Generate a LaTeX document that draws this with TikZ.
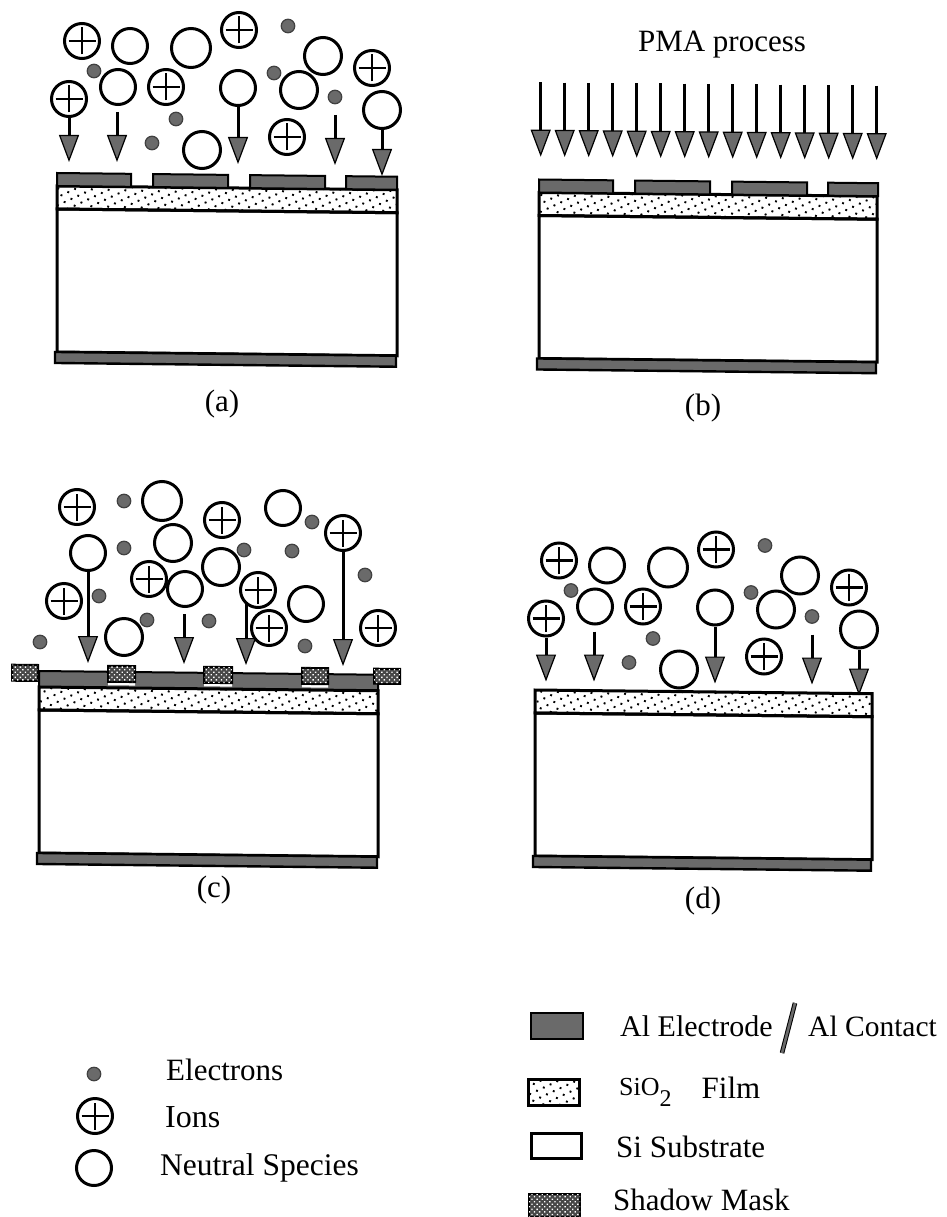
\documentclass[tikz,border=0pt]{standalone}
\usepackage{fontspec}
\setmainfont{Liberation Serif}
\usepackage{xcolor}
\usetikzlibrary{arrows.meta,patterns.meta}
\definecolor{algray}{HTML}{6A6A6A}
\tikzset{
  lbl/.style={font=\fontsize{31}{34}\selectfont,inner sep=0pt,anchor=base west},
  panellbl/.style={font=\fontsize{31}{34}\selectfont,inner sep=0pt,anchor=base},
  neutral/.style={circle,draw=black,fill=white,line width=3pt,inner sep=0pt,minimum size=35pt},
  ion/.style={neutral,path picture={
    \draw[line width=2.8pt] ([xshift=-13.5pt]path picture bounding box.center) -- ([xshift=13.5pt]path picture bounding box.center);
    \draw[line width=2.8pt] ([yshift=-13.5pt]path picture bounding box.center) -- ([yshift=13.5pt]path picture bounding box.center);}},
  electron/.style={circle,draw=black!75,fill=algray,line width=1.2pt,inner sep=0pt,minimum size=13.5pt},
  flux/.style={line width=3pt,-{Triangle[length=27pt,width=20pt,fill=algray,line width=1.2pt]}},
  alfilm/.style={draw=black,fill=algray,line width=2pt},
  siofilm/.style={draw=black,line width=3pt,pattern={Dots[distance=7.5pt,radius=1.35pt,angle=25]}},
  substrate/.style={draw=black,fill=white,line width=3pt},
  shadowmask/.style={draw=black,line width=2pt,fill=black!72,postaction={pattern={Dots[distance=3.6pt,radius=0.95pt,angle=45]},pattern color=white}}
}
% SiO2 film, substrate and back electrode, #1 is the width
\newcommand{\waferstack}[1]{%
  \draw[substrate] (0,36) rectangle (#1,179);
  \draw[siofilm] (0,13) rectangle (#1,36);
  \draw[alfilm,line width=2.4pt] (-2,179) rectangle (#1-1,190);
}
\newcommand{\topstrips}[1]{%
  \draw[alfilm] (0,0) rectangle (74,13);
  \draw[alfilm] (96,0) rectangle (171,13);
  \draw[alfilm] (193,0) rectangle (268,13);
  \draw[alfilm] (289,0) rectangle (#1,13);
}
% the same cloud of particles is used in (a) and (d)
\newcommand{\plasmacloud}{%
  \node[ion] (i1) at (82,41) {};
  \node[ion] (i2) at (239,30) {};
  \node[ion] (i3) at (372,68) {};
  \node[ion] (i4) at (69,99) {};
  \node[ion] (i5) at (166,87) {};
  \node[ion] (i6) at (287,137) {};
  \node[neutral] (n1) at (130,46) {};
  \node[neutral,minimum size=39pt] (n2) at (191,48) {};
  \node[neutral,minimum size=37pt] (n3) at (323,56) {};
  \node[neutral] (n4) at (118,87) {};
  \node[neutral] (n5) at (238,88) {};
  \node[neutral,minimum size=37pt] (n6) at (299,90) {};
  \node[neutral,minimum size=37pt] (n7) at (382,110) {};
  \node[neutral,minimum size=37pt] (n8) at (202,150) {};
  \foreach \nm/\x/\y in {1/288/26,2/94/71,3/274/73,4/335/97,5/176/119,6/152/143}
    \node[electron] (e\nm) at (\x,\y) {};
  \coordinate (s2) at (117,112);
  \coordinate (s4) at (335,115);
  \coordinate (t1) at (69,162);
  \coordinate (t2) at (117,162);
  \coordinate (t3) at (238,164);
  \coordinate (t4) at (335,165);
  \coordinate (t5) at (382,176);
  \draw[flux] (i4.south) -- (t1);
  \draw[flux] (s2) -- (t2);
  \draw[flux] (n5.south) -- (t3);
  \draw[flux] (s4) -- (t4);
  \draw[flux] (n7.south) -- (t5);
}

\begin{document}
\begin{tikzpicture}[x=1pt,y=-1pt]
\useasboundingbox (0,0) rectangle (946,1217);
\fill[white] (0,0) rectangle (946,1217);

% (a)
\begin{scope}[shift={(57,173)},yslant=-0.011]
  \waferstack{340}
  \topstrips{340}
\end{scope}
\begin{scope}[name prefix=a-]
  \plasmacloud
\end{scope}
\node[panellbl] (capa) at (222,411) {(a)};

% (b)
\begin{scope}[shift={(539,179.5)},yslant=-0.011]
  \waferstack{338}
  \topstrips{339}
\end{scope}
\node[panellbl] (pma) at (722,52) {PMA process};
\foreach \i in {0,...,14} {
  \coordinate (pmas\i) at (540.7+24*\i,82.3+0.24*\i);
  \coordinate (pmat\i) at (540.7+24*\i,156.7+0.24*\i);
  \draw[flux] (pmas\i) -- (pmat\i);
}
\node[panellbl] (capb) at (703,415) {(b)};

% (c)
\begin{scope}[shift={(39,674)},yslant=-0.011]
  \waferstack{339}
  \draw[alfilm] (0,-3) rectangle (339,12.5);
  \foreach \x/\w in {69/27,165/28,263/26} {
    \fill[white] (\x,7) rectangle (\x+\w,10.5);
    \draw[shadowmask] (\x,-9) rectangle (\x+\w,7);
  }
  \draw[shadowmask] (-27,-9) rectangle (-1,7);
  \draw[shadowmask] (335,-9) rectangle (361,6);
\end{scope}
\node[ion] (ci1) at (77,507) {};
\node[ion] (ci2) at (222,520) {};
\node[ion] (ci3) at (343,533) {};
\node[ion] (ci4) at (149,579) {};
\node[ion] (ci5) at (64,601) {};
\node[ion] (ci6) at (258,590) {};
\node[ion] (ci7) at (378,628) {};
\node[neutral,minimum size=39pt] (cn1) at (162,501) {};
\node[neutral] (cn2) at (283,508) {};
\node[neutral,minimum size=37pt] (cn3) at (173,543) {};
\node[neutral] (cn4) at (88,553) {};
\node[neutral,minimum size=37pt] (cn5) at (221,567) {};
\node[neutral] (cn6) at (185,589) {};
\node[neutral] (cn7) at (306,604) {};
\node[neutral,minimum size=37pt] (cn8) at (124,637) {};
\foreach \nm/\x/\y in {1/124/501,2/312/522,3/124/548,4/244/550,5/292/551,6/365/575,7/99/596,8/147/620,9/209/621,10/40/642,11/305/646}
  \node[electron] (ce\nm) at (\x,\y) {};
\coordinate (cs2) at (184,614);
\coordinate (cs3) at (246,603);
\coordinate (ct1) at (88,663);
\coordinate (ct2) at (184,664);
\coordinate (ct3) at (246,665);
\coordinate (ct4) at (343,666);
\draw[flux] (cn4.south) -- (ct1);
\draw[flux] (cs2) -- (ct2);
\draw[flux] (cs3) -- (ct3);
\draw[flux] (ci3.south) -- (ct4);
\node[ion] (ci8) at (269,628) {};
\node[panellbl] (capc) at (214,897) {(c)};

% (d)
\begin{scope}[shift={(535,677)},yslant=-0.011]
  \waferstack{337}
\end{scope}
\begin{scope}[shift={(477,519.5)},name prefix=d-]
  \plasmacloud
\end{scope}
\node[panellbl] (capd) at (703,908) {(d)};

% legend, left
\node[electron] (keye) at (94,1074) {};
\node[ion] (keyi) at (95,1116) {};
\node[neutral] (keyn) at (94,1168) {};
\node[lbl] at (166,1080) {Electrons};
\node[lbl,font=\fontsize{32}{34}\selectfont] at (165,1127) {Ions};
\node[lbl,font=\fontsize{31.5}{34}\selectfont] at (160,1175) {Neutral Species};

% legend, right
\node[alfilm,anchor=north west,minimum width=52pt,minimum height=26pt] (keyal) at (530,1012) {};
\node[siofilm,anchor=north west,minimum width=51pt,minimum height=26pt] (keysio) at (527,1078) {};
\node[substrate,anchor=north west,minimum width=50pt,minimum height=25pt] (keysi) at (530,1132) {};
\node[shadowmask,anchor=north west,minimum width=51pt,minimum height=23pt] (keymask) at (528,1193) {};
\node[lbl,font=\fontsize{30}{34}\selectfont] at (620,1036) {Al Electrode};
\draw[draw=black,double=algray,double distance=2.6pt,line width=1pt] (795,1003) -- (782,1053);
\node[lbl,font=\fontsize{29.5}{34}\selectfont] at (808,1036) {Al Contact};
\node[lbl,font=\fontsize{26}{28}\selectfont] at (619,1095) {SiO\raisebox{-11pt}{\fontsize{24}{26}\selectfont 2}\hspace{30pt}\raisebox{-3pt}{\fontsize{31}{34}\selectfont Film}};
\node[lbl] at (616,1157) {Si Substrate};
\node[lbl] at (613,1210.5) {Shadow Mask};
\end{tikzpicture}
\end{document}
